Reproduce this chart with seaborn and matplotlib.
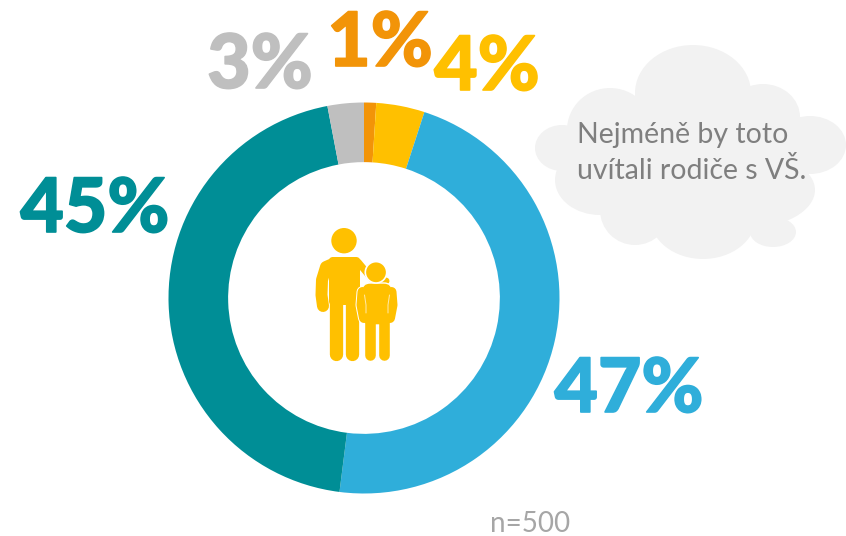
import matplotlib
matplotlib.use('Agg')
import matplotlib.patheffects as pe
import matplotlib.pyplot as plt
import seaborn as sns
from matplotlib.patches import Circle, Ellipse, FancyBboxPatch

categories = ['oranzova', 'zluta', 'modra', 'tyrkysova', 'seda']
values = [1, 4, 47, 45, 3]
labels = ['1%', '4%', '47%', '45%', '3%']
colors = ['#F29408', '#FFC000', '#2FAEDA', '#008E96', '#BFBFBF']
cloud_text = 'Nejméně by toto\nuvítali rodiče s VŠ.'
note = 'n=500'

W, H = 846, 536
ICON = '#FFC000'


def limb(ax, xs, ys, width, color=ICON, z=5):
    # width in px, figure is at 100 dpi
    ax.plot(xs, ys, color=color, lw=width * 0.72, solid_capstyle='round',
            solid_joinstyle='round', zorder=z)


def main():
    sns.set_theme(style='white')
    plt.rcParams['font.family'] = ['Lato', 'DejaVu Sans']

    fig = plt.figure(figsize=(W / 100, H / 100), dpi=100)

    # donut
    ax = fig.add_axes([168.5 / W, (H - 493.5) / H, 391 / W, 391 / H])
    ax.pie(values, colors=colors, startangle=90, counterclock=False,
           radius=1, wedgeprops={'width': 0.305, 'linewidth': 0})
    ax.set_xlim(-1, 1)
    ax.set_ylim(-1, 1)
    ax.axis('off')

    # overlay in pixel coordinates
    ov = fig.add_axes([0, 0, 1, 1], facecolor='none')
    ov.set_xlim(0, W)
    ov.set_ylim(H, 0)
    ov.axis('off')

    # percent labels, stroke makes them as heavy as the original
    label_pos = [(380, 66), (487, 90), (629, 412), (95, 232), (260, 88)]
    for lab, c, (x, y) in zip(labels, colors, label_pos):
        t = ov.text(x, y, lab, color=c, fontsize=54, fontweight=900,
                    ha='center', va='baseline')
        t.set_path_effects([pe.withStroke(linewidth=1.2, foreground=c)])

    # cloud
    lobes = [(693, 93, 58, 48), (763, 117, 37, 33), (610, 130, 43, 42),
             (562, 148, 27, 23), (810, 145, 36, 29), (747, 190, 68, 38),
             (600, 180, 45, 35), (635, 210, 35, 35), (703, 217, 53, 42),
             (773, 232, 23, 15), (690, 160, 100, 55)]
    for x, y, rx, ry in lobes:
        ov.add_patch(Ellipse((x, y), rx * 2, ry * 2, fc='#F2F2F2', ec='none', zorder=2))
    ov.text(577, 153, cloud_text, color='#7F7F7F', fontsize=20.5, ha='left',
            va='center', linespacing=1.42, zorder=3)

    ov.text(530, 524, note, color='#A6A6A6', fontsize=20, ha='center', va='center')

    # adult
    ov.add_patch(Circle((344, 240.7), 12.7, fc=ICON, ec='none', zorder=5))
    ov.add_patch(FancyBboxPatch((329, 257), 31, 48, boxstyle='round,pad=0,rounding_size=4',
                                fc=ICON, ec='none', zorder=5))
    limb(ov, [334, 326, 322, 321.5, 323], [263.5, 267, 280, 295, 306], 12)
    limb(ov, [358, 372, 386], [262, 279, 281], 7)
    limb(ov, [335.7, 335.7], [300, 353.5], 13.3)
    limb(ov, [352.3, 352.3], [300, 353.5], 13.3)

    # child with white outline
    ov.add_patch(Circle((376, 272.3), 10.7, fc=ICON, ec='white', lw=1.2, zorder=6))
    ov.add_patch(FancyBboxPatch((362, 283), 30, 42, boxstyle='round,pad=0,rounding_size=8',
                                fc=ICON, ec='white', lw=1, zorder=5.6))
    limb(ov, [362.5, 361.5, 364], [292, 305, 318], 12, color='white', z=5.5)
    limb(ov, [391.5, 392.5, 390], [292, 305, 318], 12, color='white', z=5.5)
    limb(ov, [362.5, 361.5, 364], [292, 305, 318], 10, z=6)
    limb(ov, [391.5, 392.5, 390], [292, 305, 318], 10, z=6)
    limb(ov, [364.5, 366, 366], [295, 305, 313], 1, color='#FFE9A8', z=6.2)
    limb(ov, [389.5, 388, 388], [295, 305, 313], 1, color='#FFE9A8', z=6.2)
    limb(ov, [370, 370], [322, 354.7], 10.6, z=6)
    limb(ov, [383.7, 383.7], [322, 354.7], 10.6, z=6)

    fig.savefig('out.png', dpi=100, facecolor='white')


if __name__ == '__main__':
    main()
